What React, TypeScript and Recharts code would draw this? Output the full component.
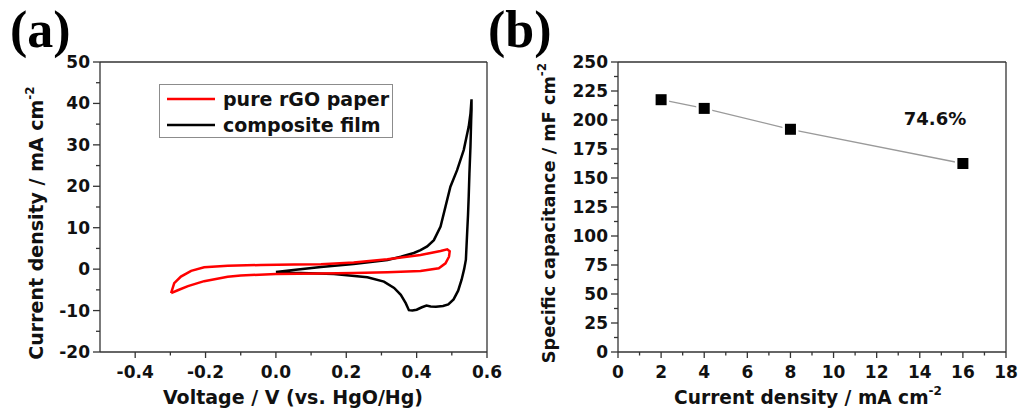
import React from 'react';
import { ComposedChart, Line, XAxis, YAxis, ReferenceLine, Legend, Label } from 'recharts';

// (a) cyclic voltammograms, voltage in V vs. HgO/Hg, current density in mA cm-2
const rgoVoltage = [-0.298, -0.289, -0.27, -0.241, -0.204, -0.137, -0.043, 0.051, 0.128, 0.221, 0.317, 0.411, 0.468, 0.487, 0.494, 0.492, 0.482, 0.463, 0.411, 0.317, 0.221, 0.128, 0.0, -0.1, -0.137, -0.204, -0.25, -0.279, -0.298];
const rgoCurrent = [-5.8, -3.4, -1.8, -0.4, 0.45, 0.8, 1.0, 1.15, 1.2, 1.6, 2.4, 3.4, 4.4, 4.8, 4.3, 3.0, 1.4, 0.2, -0.45, -0.75, -0.95, -1.05, -1.15, -1.55, -1.85, -2.9, -4.1, -5.1, -5.8];

const filmVoltage = [0.0, 0.05, 0.128, 0.221, 0.317, 0.355, 0.392, 0.411, 0.43, 0.449, 0.468, 0.482, 0.496, 0.515, 0.534, 0.548, 0.553, 0.556, 0.556, 0.555, 0.553, 0.55, 0.548, 0.546, 0.544, 0.54, 0.535, 0.528, 0.518, 0.505, 0.49, 0.475, 0.455, 0.44, 0.428, 0.415, 0.4, 0.388, 0.378, 0.369, 0.355, 0.336, 0.307, 0.26, 0.165, 0.071, 0.0];
const filmCurrent = [-0.7, -0.2, 0.5, 1.25, 2.2, 3.0, 3.9, 4.6, 5.5, 7.0, 10.3, 15.1, 19.9, 23.9, 28.8, 34.4, 37.5, 41.0, 38.5, 36.0, 29.6, 23.0, 17.5, 13.0, 9.5, 2.3, 0.0, -2.5, -5.2, -7.3, -8.5, -8.9, -9.1, -9.0, -8.8, -9.2, -9.8, -10.0, -9.9, -8.2, -6.2, -4.55, -3.0, -1.95, -1.2, -0.95, -0.9];

const legendNames = ['pure rGO paper', 'composite film'];

// (b) capacitance vs current density
const densities = [2, 4, 8, 16];
const capacitances = [217.5, 210, 192, 162.5];
const retention = '74.6%';

// ticks
const cvXTicks = [-0.4, -0.3, -0.2, -0.1, 0, 0.1, 0.2, 0.3, 0.4, 0.5, 0.6];
const cvXLabels = ['-0.4', '-0.2', '0.0', '0.2', '0.4', '0.6'];
const cvYTicks = [-20, -15, -10, -5, 0, 5, 10, 15, 20, 25, 30, 35, 40, 45, 50];
const cvYLabels = ['-20', '-10', '0', '10', '20', '30', '40', '50'];
const capXTicks = [0, 1, 2, 3, 4, 5, 6, 7, 8, 9, 10, 11, 12, 13, 14, 15, 16, 17, 18];
const capXLabels = ['0', '2', '4', '6', '8', '10', '12', '14', '16', '18'];
const capYTicks = [0, 12.5, 25, 37.5, 50, 62.5, 75, 87.5, 100, 112.5, 125, 137.5, 150, 162.5, 175, 187.5, 200, 212.5, 225, 237.5, 250];
const capYLabels = ['0', '25', '50', '75', '100', '125', '150', '175', '200', '225', '250'];

const rgoData = rgoVoltage.map((v, i) => ({ v, j: rgoCurrent[i] }));
const filmData = filmVoltage.map((v, i) => ({ v, j: filmCurrent[i] }));
const capData = densities.map((d, i) => ({ d, c: capacitances[i] }));

const FONT = '"DejaVu Sans", Verdana, sans-serif';
const AXIS = '#333';
const INK = '#111';

const bottomTick = (labels: string[], fmt: (v: number) => string) => (props: any) => {
  const { x, y, payload } = props;
  const text = fmt(payload.value);
  const major = labels.includes(text);
  return (
    <g>
      <line x1={x} x2={x} y1={y} y2={y + (major ? 6 : 3.5)} stroke={AXIS} strokeWidth={1.3} />
      {major && (
        <text x={x} y={y + 26} textAnchor="middle" fontFamily={FONT} fontWeight="bold" fontSize={17} fill={INK}>
          {text}
        </text>
      )}
    </g>
  );
};

const leftTick = (labels: string[]) => (props: any) => {
  const { x, y, payload } = props;
  const text = String(payload.value);
  const major = labels.includes(text);
  return (
    <g>
      <line x1={x - (major ? 7 : 4)} x2={x} y1={y} y2={y} stroke={AXIS} strokeWidth={1.3} />
      {major && (
        <text x={x - 10} y={y + 6} textAnchor="end" fontFamily={FONT} fontWeight="bold" fontSize={17} fill={INK}>
          {text}
        </text>
      )}
    </g>
  );
};

const axisTitle = (x: number, y: number, main: string, sup: string, size: number, rotate = false) => () => (
  <text
    x={x}
    y={y}
    textAnchor="middle"
    fontFamily={FONT}
    fontWeight="bold"
    fontSize={size}
    fill={INK}
    transform={rotate ? `rotate(-90, ${x}, ${y})` : undefined}
  >
    {main}
    <tspan dy={-9} fontSize={12}>{sup}</tspan>
  </text>
);

const SquareDot = (props: any) => {
  const { cx, cy } = props;
  return (
    <g>
      <rect x={cx - 8} y={cy - 8} width={16} height={16} fill="#fff" />
      <rect x={cx - 5.5} y={cy - 5.5} width={11} height={11} fill="#000" />
    </g>
  );
};

const CvLegend = () => (
  <div
    style={{
      width: 234,
      height: 54,
      boxSizing: 'border-box',
      border: '1px solid #8c8c8c',
      background: '#fff',
      paddingTop: 1,
    }}
  >
    {legendNames.map((name, i) => (
      <div key={name} style={{ display: 'flex', alignItems: 'center', height: 26 }}>
        <svg width={48} height={4} style={{ marginLeft: 7 }}>
          <line x1={0} x2={48} y1={2} y2={2} stroke={i === 0 ? '#ff0000' : '#000'} strokeWidth={2.5} />
        </svg>
        <span
          style={{
            marginLeft: 8,
            fontFamily: FONT,
            fontWeight: 'bold',
            fontSize: 19,
            color: INK,
            lineHeight: '26px',
          }}
        >
          {name}
        </span>
      </div>
    ))}
  </div>
);

export default function App() {
  return (
    <div style={{ position: 'absolute', left: 0, top: 0, width: 1019, height: 414, background: '#fff' }}>
      <div style={{ position: 'absolute', left: 0, top: 0 }}>
        <ComposedChart width={520} height={414} margin={{ top: 62, right: 33, bottom: 0, left: 0 }}>
          <XAxis
            type="number"
            dataKey="v"
            domain={[-0.5, 0.6]}
            ticks={cvXTicks}
            interval={0}
            allowDataOverflow
            height={62}
            tickSize={0}
            tickMargin={0}
            tickLine={false}
            axisLine={{ stroke: AXIS, strokeWidth: 1.3 }}
            tick={bottomTick(cvXLabels, (v) => v.toFixed(1))}
          >
            <Label content={axisTitle(293, 404, 'Voltage / V (vs. HgO/Hg)', '', 19)} />
          </XAxis>
          <YAxis
            type="number"
            domain={[-20, 50]}
            ticks={cvYTicks}
            interval={0}
            allowDataOverflow
            width={100}
            tickSize={0}
            tickMargin={0}
            tickLine={false}
            axisLine={{ stroke: AXIS, strokeWidth: 1.3 }}
            tick={leftTick(cvYLabels)}
          >
            <Label content={axisTitle(43, 223, 'Current density / mA cm', '-2', 19, true)} />
          </YAxis>
          <ReferenceLine y={50} stroke={AXIS} strokeWidth={1.3} />
          <ReferenceLine x={0.6} stroke={AXIS} strokeWidth={1.3} />
          <Line
            data={filmData}
            dataKey="j"
            type="linear"
            stroke="#000"
            strokeWidth={2.5}
            dot={false}
            isAnimationActive={false}
          />
          <Line
            data={rgoData}
            dataKey="j"
            type="linear"
            stroke="#ff0000"
            strokeWidth={2.5}
            dot={false}
            isAnimationActive={false}
          />
          <Legend
            layout="vertical"
            align="center"
            verticalAlign="middle"
            content={<CvLegend />}
            wrapperStyle={{ left: 159, top: 84, width: 234, height: 54 }}
          />
        </ComposedChart>
      </div>

      <div style={{ position: 'absolute', left: 500, top: 0 }}>
        <ComposedChart width={519} height={414} data={capData} margin={{ top: 62, right: 13, bottom: 0, left: 0 }}>
          <XAxis
            type="number"
            dataKey="d"
            domain={[0, 18]}
            ticks={capXTicks}
            interval={0}
            allowDataOverflow
            height={62}
            tickSize={0}
            tickMargin={0}
            tickLine={false}
            axisLine={{ stroke: AXIS, strokeWidth: 1.3 }}
            tick={bottomTick(capXLabels, (v) => String(v))}
          >
            <Label content={axisTitle(308, 404, 'Current density / mA cm', '-2', 18.6)} />
          </XAxis>
          <YAxis
            type="number"
            domain={[0, 250]}
            ticks={capYTicks}
            interval={0}
            allowDataOverflow
            width={118}
            tickSize={0}
            tickMargin={0}
            tickLine={false}
            axisLine={{ stroke: AXIS, strokeWidth: 1.3 }}
            tick={leftTick(capYLabels)}
          >
            <Label content={axisTitle(55, 213, 'Specific capacitance / mF cm', '-2', 17.7, true)} />
          </YAxis>
          <ReferenceLine y={250} stroke={AXIS} strokeWidth={1.3} />
          <ReferenceLine x={18} stroke={AXIS} strokeWidth={1.3} />
          <Line
            dataKey="c"
            type="linear"
            stroke="#9a9a9a"
            strokeWidth={1.3}
            dot={<SquareDot />}
            isAnimationActive={false}
          />
        </ComposedChart>
      </div>

      <svg width={1019} height={414} style={{ position: 'absolute', left: 0, top: 0, pointerEvents: 'none' }}>
        <text x={10} y={47} fontFamily='"Liberation Serif", "Times New Roman", serif' fontWeight="bold" fontSize={52} fill="#000">
          (a)
        </text>
        <text x={488} y={47} fontFamily='"Liberation Serif", "Times New Roman", serif' fontWeight="bold" fontSize={52} fill="#000">
          (b)
        </text>
        <text x={935} y={125} textAnchor="middle" fontFamily={FONT} fontWeight="bold" fontSize={18} fill={INK}>
          {retention}
        </text>
      </svg>
    </div>
  );
}
